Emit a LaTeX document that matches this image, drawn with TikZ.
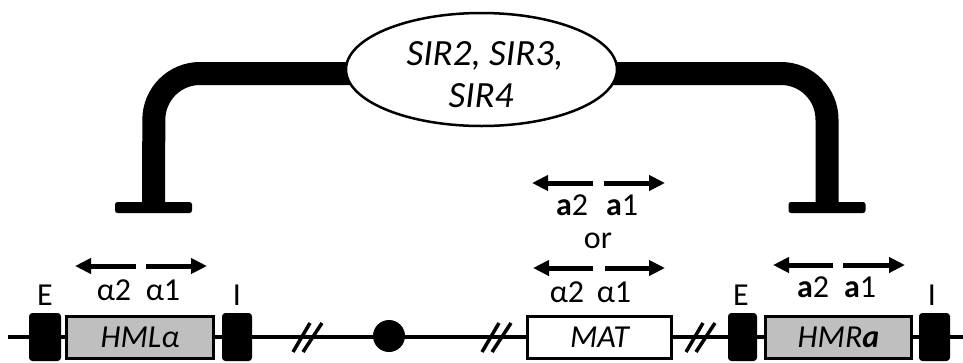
\documentclass[tikz,border=0pt]{standalone}
\usepackage{fontspec}
\setmainfont{Carlito}
\usetikzlibrary{arrows.meta,shapes.geometric}
\begin{document}
\begin{tikzpicture}[x=1pt,y=-1pt,
  lbl/.style={anchor=base,inner sep=0pt,font=\fontsize{32}{38}\selectfont},
  sirtxt/.style={anchor=base,inner sep=0pt,font=\fontsize{37}{44}\selectfont\itshape},
  blk/.style={fill=black,draw=black,line width=1pt,rounded corners=3pt,minimum height=47pt,inner sep=0pt},
  genebox/.style={draw=black,line width=3pt,minimum height=42pt,inner sep=0pt,text depth=0pt,font=\fontsize{32}{38}\selectfont\itshape},
  arr/.style={line width=5pt,-{Triangle[length=16pt,width=15pt]}},
  chrom/.style={line width=3.5pt},
  slash/.style={line width=3.5pt},
  bar/.style={line width=23pt,rounded corners=46pt},
  tbar/.style={fill=black,rounded corners=2.5pt,minimum width=77pt,minimum height=11pt,inner sep=0pt},
]
\useasboundingbox (0,0) rectangle (963,362);

% chromosome line
\coordinate (L0) at (8,337);
\coordinate (L1) at (963,337);
\draw[chrom] (L0) -- (L1);

% breaks
\coordinate (s1) at (307,337);
\coordinate (s2) at (496,337);
\coordinate (s3) at (700,337);
\foreach \s in {s1,s2,s3}{
  \draw[slash] ([shift={(-14,15)}]\s) -- ([shift={(3,-14)}]\s);
  \draw[slash] ([shift={(-4,15)}]\s) -- ([shift={(15,-14)}]\s);
}

% centromere
\node[circle,fill=black,minimum size=32pt,inner sep=0pt] (cen) at (389,336) {};

% left locus HML
\node[blk,minimum width=31pt] (EL) at (45,337) {};
\node[genebox,fill=black!25!white,minimum width=147pt] (HML) at (140,337.5) {HMLα};
\node[blk,minimum width=29pt] (IL) at (237,337) {};

% MAT
\node[genebox,fill=white,minimum width=144pt] (MAT) at (599.5,337.5) {MAT};

% right locus HMR
\node[blk,minimum width=28pt] (ER) at (742.5,337) {};
\node[genebox,fill=black!25!white,minimum width=146pt] (HMR) at (838.5,337.5) {HMR\textbf{a}};
\node[blk,minimum width=30pt] (IR) at (934.5,337) {};

% labels
\node[lbl] (tEL) at (45,305) {E};
\node[lbl] (tIL) at (237,305) {I};
\node[lbl] (tER) at (741,305) {E};
\node[lbl] (tIR) at (932,305) {I};
\node[lbl] (la2) at (114,300) {α2};
\node[lbl] (la1) at (163,300) {α1};
\node[lbl] (ma2) at (567,302) {α2};
\node[lbl] (ma1) at (614,302) {α1};
\node[lbl] (mb2) at (572,215) {\textbf{a}2};
\node[lbl] (mb1) at (622,215) {\textbf{a}1};
\node[lbl] (mor) at (598,248) {or};
\node[lbl] (rb2) at (813,297) {\textbf{a}2};
\node[lbl] (rb1) at (860,297) {\textbf{a}1};

% transcript arrows
\coordinate (la0) at (136,266); \coordinate (la0e) at (75,266);
\coordinate (la1s) at (146,266); \coordinate (la1e) at (207,266);
\draw[arr] (la0) -- (la0e);
\draw[arr] (la1s) -- (la1e);
\coordinate (ma0) at (593,268); \coordinate (ma0e) at (533,268);
\coordinate (ma1s) at (605,268); \coordinate (ma1e) at (665,268);
\draw[arr] (ma0) -- (ma0e);
\draw[arr] (ma1s) -- (ma1e);
\coordinate (mb0) at (593,183); \coordinate (mb0e) at (532,183);
\coordinate (mb1s) at (604,183); \coordinate (mb1e) at (665,183);
\draw[arr] (mb0) -- (mb0e);
\draw[arr] (mb1s) -- (mb1e);
\coordinate (rb0) at (833,265); \coordinate (rb0e) at (773,265);
\coordinate (rb1s) at (843,265); \coordinate (rb1e) at (905,265);
\draw[arr] (rb0) -- (rb0e);
\draw[arr] (rb1s) -- (rb1e);

% repression bars
\node[tbar] (tL) at (153.5,207.5) {};
\node[tbar] (tR) at (827,207.5) {};
\coordinate (hub) at (481,73.5);
\coordinate (cL) at (154,73.5);
\coordinate (cR) at (827,73.5);
\draw[bar] (hub) -- (cL) -- (tL.center);
\draw[bar] (hub) -- (cR) -- (tR.center);

% SIR ellipse
\node[ellipse,draw=black,line width=2.5pt,fill=white,minimum width=271pt,minimum height=113pt,inner sep=0pt] (sir) at (481.5,69.5) {};
\node[sirtxt] (sir1) at (485,65.5) {SIR2, SIR3,};
\node[sirtxt] (sir2) at (481,107.5) {SIR4};
\end{tikzpicture}
\end{document}
